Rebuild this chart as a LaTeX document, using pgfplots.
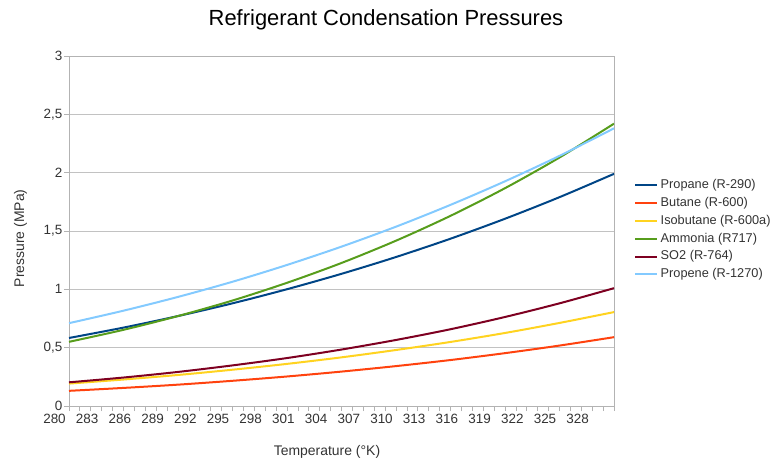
\documentclass[border=0pt]{standalone}
\usepackage{pgfplots}
\usepackage{pgfplotstable}
\pgfplotsset{compat=1.18}
\usepackage{fontspec}
\setmainfont{Liberation Sans}
\definecolor{cPropane}{HTML}{004586}
\definecolor{cButane}{HTML}{FF420E}
\definecolor{cIsobutane}{HTML}{FFD320}
\definecolor{cAmmonia}{HTML}{579D1C}
\definecolor{cSO}{HTML}{7E0021}
\definecolor{cPropene}{HTML}{83CAFF}
\definecolor{axgray}{HTML}{B3B3B3}
\definecolor{txtgray}{HTML}{333333}

\pgfplotstableread{
T    propane butane isobutane ammonia so2   propene
280  0.583   0.130  0.192     0.550   0.203 0.710
285  0.672   0.155  0.227     0.653   0.244 0.817
290  0.771   0.183  0.266     0.771   0.292 0.935
295  0.880   0.216  0.311     0.904   0.348 1.065
300  1.001   0.253  0.361     1.056   0.411 1.209
305  1.133   0.295  0.417     1.226   0.484 1.366
310  1.277   0.342  0.480     1.417   0.566 1.537
315  1.434   0.394  0.549     1.630   0.658 1.724
320  1.605   0.453  0.626     1.867   0.763 1.926
325  1.790   0.518  0.712     2.130   0.880 2.144
330  1.990   0.590  0.805     2.420   1.010 2.380
}\datatable

\begin{document}
\begin{tikzpicture}
\useasboundingbox (-69bp,-57bp) rectangle (708bp,406bp);
\begin{axis}[
  at={(0,0)}, anchor=south west,
  scale only axis, width=545bp, height=350bp,
  xmin=280, xmax=330, ymin=0, ymax=3,
  xtick={280,283,...,328},
  minor xtick={280,281,...,330},
  ytick={0,0.5,1,1.5,2,2.5,3},
  tick align=outside,
  tick pos=left,
  major tick length=5bp, minor tick length=5bp,
  every tick/.style={color=axgray, line width=0.8bp},
  axis line style={color=axgray, line width=0.8bp},
  ymajorgrids,
  major grid style={color=axgray!80, line width=0.8bp},
  /pgf/number format/use comma,
  /pgf/number format/1000 sep={},
  /pgf/number format/assume math mode=true,
  xticklabel style={font=\fontsize{13.5}{15}\selectfont, color=txtgray, xshift=-14.5bp},
  yticklabel style={font=\fontsize{13.5}{15}\selectfont, color=txtgray, inner sep=1.5bp},
  xlabel={Temperature (°K)},
  ylabel={Pressure (MPa)},
  xlabel style={at={(axis description cs:0.4734,-0.14)}, anchor=base, font=\fontsize{14}{16}\selectfont, color=txtgray},
  ylabel style={at={(axis description cs:-0.0890,0.479)}, anchor=center, font=\fontsize{14}{16}\selectfont, color=txtgray},
  every axis plot/.append style={line width=2bp, smooth, no markers},
  legend style={at={(axis description cs:1.0367,0.503)}, anchor=west,
    draw=none, fill=none, inner sep=0pt,
    font=\fontsize{12.8}{14}\selectfont, text=txtgray,
    nodes={inner sep=0.5bp, text height=9bp, text depth=2.5bp},
    row sep=5.3bp, column sep=2bp},
  legend cell align=left,
  legend image code/.code={\draw[#1, line width=2bp] (0bp,0bp) -- (22bp,0bp);},
]
\addplot[color=cPropane] table[x=T, y=propane] {\datatable};
\addlegendentry{Propane (R-290)}
\addplot[color=cButane] table[x=T, y=butane] {\datatable};
\addlegendentry{Butane (R-600)}
\addplot[color=cIsobutane] table[x=T, y=isobutane] {\datatable};
\addlegendentry{Isobutane (R-600a)}
\addplot[color=cAmmonia] table[x=T, y=ammonia] {\datatable};
\addlegendentry{Ammonia (R717)}
\addplot[color=cSO] table[x=T, y=so2] {\datatable};
\addlegendentry{SO2 (R-764)}
\addplot[color=cPropene] table[x=T, y=propene] {\datatable};
\addlegendentry{Propene (R-1270)}
\end{axis}
\node[anchor=base, font=\fontsize{22}{26}\selectfont] at (317bp,380bp) {Refrigerant Condensation Pressures};
\end{tikzpicture}
\end{document}
